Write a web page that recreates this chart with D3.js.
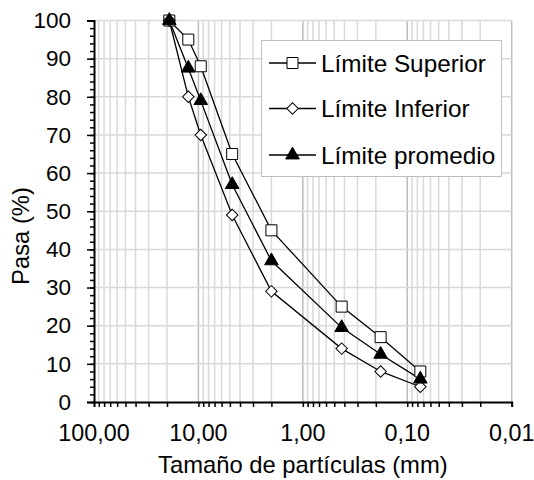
<!DOCTYPE html>
<html>
<head>
<meta charset="utf-8">
<script src="https://cdn.jsdelivr.net/npm/d3@7"></script>
<style>
  html, body { margin: 0; padding: 0; background: #fff; }
  svg { display: block; font-family: "Liberation Sans", Arial, sans-serif; }
</style>
</head>
<body>
<svg id="chart" width="534" height="480"></svg>
<script>
// Sieve sizes (mm) and cumulative passing percentages
const sizes = [19, 12.5, 9.5, 4.75, 2.00, 0.425, 0.18, 0.075];
const superior = [100, 95, 88, 65, 45, 25, 17, 8];
const inferior = [100, 80, 70, 49, 29, 14, 8, 4];
const promedio = [100, 87.5, 79, 57, 37, 19.5, 12.5, 6];

const seriesNames = ["Límite Superior", "Límite Inferior", "Límite promedio"];
const xTicks = [100, 10, 1, 0.1, 0.01];
const yTicks = [0, 10, 20, 30, 40, 50, 60, 70, 80, 90, 100];
const xTitle = "Tamaño de partículas (mm)";
const yTitle = "Pasa (%)";

const width = 534, height = 480;
const margin = { left: 94, right: 22.3, top: 20.5, bottom: 78 };

const svg = d3.select("#chart");

const x = d3.scaleLog().domain([100, 0.01]).range([margin.left, width - margin.right]);
const y = d3.scaleLinear().domain([0, 100]).range([height - margin.bottom, margin.top]);

const locale = d3.formatLocale({ decimal: ",", thousands: ".", grouping: [3], currency: ["", ""] });
const fmt = locale.format(".2f");

// minor log positions (1..9 per decade)
const minorX = [];
[10, 1, 0.1, 0.01].forEach(base => {
  for (let k = 1; k <= 9; k++) minorX.push(base * k);
});
const logMinor = minorX.filter(v => v <= 100 && v >= 0.01);

// vertical gridlines
const grid = svg.append("g");
grid.selectAll("line.vx")
  .data(logMinor)
  .join("line")
  .attr("x1", d => x(d)).attr("x2", d => x(d))
  .attr("y1", y(0)).attr("y2", y(100))
  .attr("stroke", d => xTicks.some(t => Math.abs(t - d) < 1e-9) ? "#bdbdbd" : "#d9d9d9")
  .attr("stroke-width", 1.5);

// horizontal gridlines
grid.selectAll("line.hy")
  .data(yTicks.filter(v => v > 0))
  .join("line")
  .attr("x1", x(100)).attr("x2", x(0.01))
  .attr("y1", d => y(d)).attr("y2", d => y(d))
  .attr("stroke", "#d9d9d9")
  .attr("stroke-width", 1.5);

// x axis
const xAxis = svg.append("g")
  .attr("transform", `translate(0,${y(0)})`)
  .call(d3.axisBottom(x).tickValues(logMinor).tickSize(5).tickFormat(""));
xAxis.select(".domain").attr("stroke", "#000").attr("stroke-width", 2);
xAxis.selectAll(".tick line").attr("stroke", "#000").attr("stroke-width", 1.5);

svg.append("g")
  .selectAll("text")
  .data(xTicks)
  .join("text")
  .attr("x", d => x(d))
  .attr("y", 441)
  .attr("text-anchor", "middle")
  .attr("font-size", 23.3)
  .attr("fill", "#000")
  .text(d => fmt(d));

// y axis
const yMinor = d3.range(0, 101, 2);
const yAxisMinor = svg.append("g")
  .attr("transform", `translate(${x(100)},0)`)
  .call(d3.axisLeft(y).tickValues(yMinor).tickSize(4).tickFormat(""));
yAxisMinor.select(".domain").remove();
yAxisMinor.selectAll(".tick line").attr("stroke", "#000").attr("stroke-width", 1.5);

const yAxis = svg.append("g")
  .attr("transform", `translate(${x(100)},0)`)
  .call(d3.axisLeft(y).tickValues(yTicks).tickSize(7).tickPadding(16).tickFormat(d3.format("d")));
yAxis.select(".domain").attr("stroke", "#000").attr("stroke-width", 2);
yAxis.selectAll(".tick line").attr("stroke", "#000").attr("stroke-width", 1.5);
yAxis.selectAll(".tick text")
  .attr("font-size", 22.5)
  .attr("fill", "#000")
  .attr("font-family", "Liberation Sans, Arial, sans-serif");

// axis titles
svg.append("text")
  .attr("x", (x(100) + x(0.01)) / 2)
  .attr("y", 473)
  .attr("text-anchor", "middle")
  .attr("font-size", 23.8)
  .attr("fill", "#000")
  .text(xTitle);

svg.append("text")
  .attr("transform", "translate(28.5,236) rotate(-90)")
  .attr("text-anchor", "middle")
  .attr("font-size", 23.8)
  .attr("fill", "#000")
  .text(yTitle);

// series
const series = [
  { name: seriesNames[0], values: superior, marker: "square" },
  { name: seriesNames[1], values: inferior, marker: "diamond" },
  { name: seriesNames[2], values: promedio, marker: "triangle" }
];

const symbolFor = {
  square: { type: d3.symbolSquare, size: 121, fill: "#fff" },
  diamond: { type: d3.symbolSquare, size: 66, fill: "#fff", rotate: 45 },
  triangle: { type: d3.symbolTriangle, size: 80, fill: "#000" }
};

const line = d3.line().x(d => x(d[0])).y(d => y(d[1]));

function drawMarker(g, kind, cx, cy) {
  const s = symbolFor[kind];
  g.append("path")
    .attr("d", d3.symbol().type(s.type).size(s.size)())
    .attr("transform", `translate(${cx},${cy})` + (s.rotate ? ` rotate(${s.rotate})` : ""))
    .attr("fill", s.fill)
    .attr("stroke", "#000")
    .attr("stroke-width", 1);
}

const plot = svg.append("g");
series.forEach(s => {
  const pts = sizes.map((v, i) => [v, s.values[i]]);
  plot.append("path")
    .attr("d", line(pts))
    .attr("fill", "none")
    .attr("stroke", "#000")
    .attr("stroke-width", 1.3);
});
series.forEach(s => {
  const g = plot.append("g");
  sizes.forEach((v, i) => drawMarker(g, s.marker, x(v), y(s.values[i])));
});

// legend
const lg = svg.append("g");
lg.append("rect")
  .attr("x", 261.5).attr("y", 40.5)
  .attr("width", 240).attr("height", 136)
  .attr("fill", "#fff")
  .attr("stroke", "#bfbfbf")
  .attr("stroke-width", 1);

const rowsY = [63, 108.5, 155];
series.forEach((s, i) => {
  const ry = rowsY[i];
  lg.append("line")
    .attr("x1", 269).attr("x2", 316)
    .attr("y1", ry).attr("y2", ry)
    .attr("stroke", "#000").attr("stroke-width", 1.3);
  drawMarker(lg, s.marker, 292.5, ry);
  lg.append("text")
    .attr("x", 321)
    .attr("y", ry + 8.5)
    .attr("font-size", 24.3)
    .attr("fill", "#000")
    .text(s.name);
});
</script>
</body>
</html>
